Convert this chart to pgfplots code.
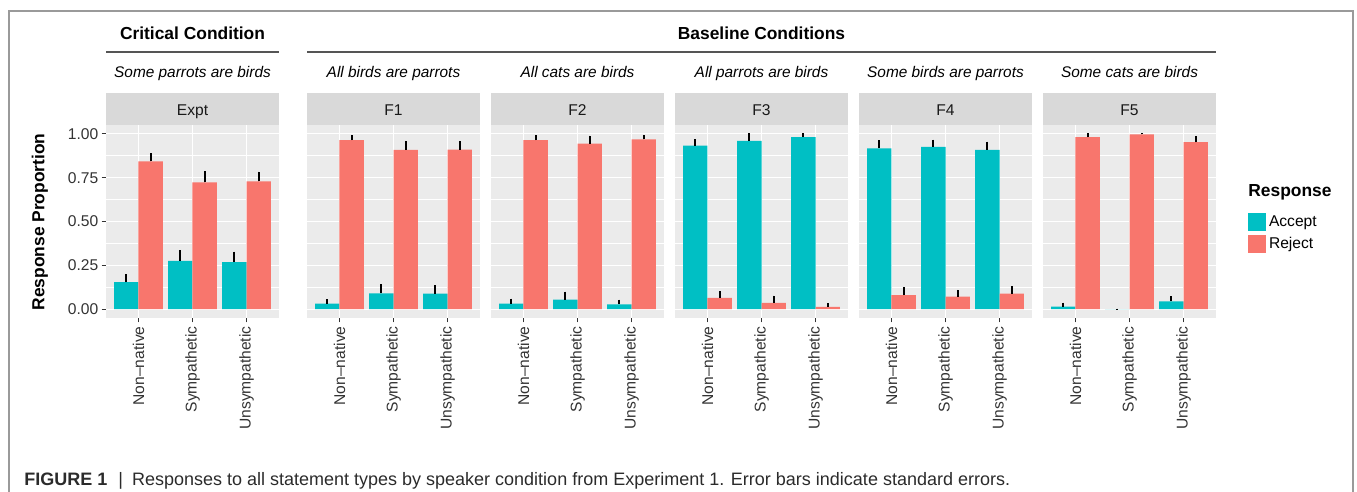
\documentclass[border=0pt]{standalone}
\usepackage{pgfplots}
\usepackage{pgfplotstable}
\pgfplotsset{compat=1.18}
\usepackage{fontspec}
\setmainfont{Liberation Sans}
\definecolor{panelbg}{HTML}{EBEBEB}
\definecolor{stripbg}{HTML}{D9D9D9}
\definecolor{accept}{HTML}{00BFC4}
\definecolor{reject}{HTML}{F8766D}
\definecolor{tickgray}{HTML}{333333}
\definecolor{framegray}{HTML}{9A9A9A}
\definecolor{linegray}{HTML}{555555}
\definecolor{captgray}{HTML}{2B2B2B}

\pgfplotstableread{
x acc accse rej rejse
1 0.154 0.046 0.843 0.046
2 0.275 0.062 0.723 0.064
3 0.269 0.059 0.729 0.055
}\Expt
\pgfplotstableread{
x acc accse rej rejse
1 0.032 0.024 0.964 0.030
2 0.090 0.051 0.908 0.052
3 0.089 0.048 0.910 0.050
}\Fone
\pgfplotstableread{
x acc accse rej rejse
1 0.032 0.028 0.964 0.030
2 0.055 0.045 0.944 0.045
3 0.028 0.027 0.968 0.026
}\Ftwo
\pgfplotstableread{
x acc accse rej rejse
1 0.932 0.038 0.064 0.038
2 0.960 0.042 0.036 0.041
3 0.981 0.021 0.013 0.021
}\Fthree
\pgfplotstableread{
x acc accse rej rejse
1 0.917 0.047 0.081 0.047
2 0.925 0.041 0.072 0.039
3 0.908 0.047 0.089 0.043
}\Ffour
\pgfplotstableread{
x acc accse rej rejse
1 0.015 0.023 0.981 0.023
2 0.000 0.003 0.997 0.007
3 0.045 0.030 0.953 0.032
}\Ffive

\pgfplotsset{
  panel/.style={
    scale only axis, width=86.5pt, height=96.5pt,
    anchor=south west,
    xmin=0.4, xmax=3.6, ymin=-0.05, ymax=1.05,
    xtick={1,2,3}, xticklabels={Non--native,Sympathetic,Unsympathetic},
    ytick={0,0.25,0.5,0.75,1},
    yticklabels={0.00,0.25,0.50,0.75,1.00},
    minor ytick={0.125,0.375,0.625,0.875},
    grid=both,
    major grid style={white, line width=0.7pt},
    minor grid style={white, line width=0.35pt},
    axis line style={draw=none},
    axis background/.style={fill=panelbg},
    tick pos=left,
    tick align=outside, major tick length=2.2pt, minor tick length=0pt,
    tick style={color=tickgray, line width=0.5pt},
    ticklabel style={font=\fontsize{7.8}{9}\selectfont, text=tickgray},
    xticklabel style={rotate=90, anchor=east, inner sep=1.8pt},
    yticklabel style={inner sep=1.5pt},
    ybar, bar width=0.45,
  },
  fpanel/.style={panel, yticklabels={}, ytick style={draw=none}},
  eb/.style={error bars/y dir=plus, error bars/y explicit,
    error bars/error bar style={black, line width=0.95pt},
    error bars/error mark=none},
  accbar/.style={fill=accept, draw=none, bar shift=-0.225, eb,
    legend image code/.code={\fill[accept] (0pt,-4.6pt) rectangle (9pt,4.6pt);}},
  rejbar/.style={fill=reject, draw=none, bar shift=0.225, eb,
    legend image code/.code={\fill[reject] (0pt,-4.6pt) rectangle (9pt,4.6pt);}},
}

\begin{document}
\begin{tikzpicture}
\useasboundingbox (0pt,0pt) rectangle (678.5pt,-246pt);
% frame
\draw[framegray, line width=0.8pt] (4.5pt,-246pt) -- (4.5pt,-5.5pt) -- (676.5pt,-5.5pt) -- (676.5pt,-246pt);

\begin{axis}[panel, at={(53pt,-159pt)}]
\addplot[accbar] table[x=x, y=acc, y error=accse] {\Expt};
\addplot[rejbar] table[x=x, y=rej, y error=rejse] {\Expt};
\end{axis}
\begin{axis}[fpanel, at={(153.5pt,-159pt)}]
\addplot[accbar] table[x=x, y=acc, y error=accse] {\Fone};
\addplot[rejbar] table[x=x, y=rej, y error=rejse] {\Fone};
\end{axis}
\begin{axis}[fpanel, at={(245.5pt,-159pt)}]
\addplot[accbar] table[x=x, y=acc, y error=accse] {\Ftwo};
\addplot[rejbar] table[x=x, y=rej, y error=rejse] {\Ftwo};
\end{axis}
\begin{axis}[fpanel, at={(337.5pt,-159pt)}]
\addplot[accbar] table[x=x, y=acc, y error=accse] {\Fthree};
\addplot[rejbar] table[x=x, y=rej, y error=rejse] {\Fthree};
\end{axis}
\begin{axis}[fpanel, at={(429.5pt,-159pt)}]
\addplot[accbar] table[x=x, y=acc, y error=accse] {\Ffour};
\addplot[rejbar] table[x=x, y=rej, y error=rejse] {\Ffour};
\end{axis}
\begin{axis}[fpanel, at={(521.5pt,-159pt)},
  legend style={at={(1.185,0.547)}, anchor=north west, draw=none, fill=none,
    inner sep=0pt, font=\fontsize{7.8}{9}\selectfont, row sep=1.2pt,
    nodes={inner sep=1.3pt, text=black}},
  legend cell align=left]
\addplot[accbar] table[x=x, y=acc, y error=accse] {\Ffive};
\addlegendentry{Accept}
\addplot[rejbar] table[x=x, y=rej, y error=rejse] {\Ffive};
\addlegendentry{Reject}
\end{axis}

% strips
\foreach \xl/\lab in {53/Expt, 153.5/F1, 245.5/F2, 337.5/F3, 429.5/F4, 521.5/F5} {
  \fill[stripbg] ({\xl*1pt},-46.5pt) rectangle ({\xl*1pt+86.5pt},-62.5pt);
  \node[font=\fontsize{7.8}{9}\selectfont, text=black!90, anchor=base, inner sep=0pt] at ({\xl*1pt+43.25pt},-57.6pt) {\lab};
}
% subtitles
\foreach \xl/\lab in {53/Some parrots are birds, 153.5/All birds are parrots, 245.5/All cats are birds, 337.5/All parrots are birds, 429.5/Some birds are parrots, 521.5/Some cats are birds} {
  \node[font=\fontsize{7.7}{9}\selectfont\itshape, anchor=base, inner sep=0pt] at ({\xl*1pt+43.25pt},-38.6pt) {\lab};
}
% headings
\node[font=\fontsize{8.7}{10}\selectfont\bfseries, anchor=base, inner sep=0pt] at (96.25pt,-19.6pt) {Critical Condition};
\node[font=\fontsize{8.7}{10}\selectfont\bfseries, anchor=base, inner sep=0pt] at (380.75pt,-19.6pt) {Baseline Conditions};
\draw[linegray, line width=0.7pt] (53pt,-26pt) -- (139.5pt,-26pt);
\draw[linegray, line width=0.7pt] (153.5pt,-26pt) -- (608pt,-26pt);
% y label
\node[font=\fontsize{8.7}{10}\selectfont\bfseries, rotate=90] at (20pt,-111pt) {Response Proportion};
% legend title
\node[font=\fontsize{8.7}{10}\selectfont\bfseries, anchor=west, inner sep=0pt] at (624pt,-96pt) {Response};
% caption
\node[anchor=base west, inner sep=0pt, font=\fontsize{9}{10}\selectfont, text=captgray] at (12pt,-242.5pt)
  {\textbf{FIGURE 1}\hspace{5.5pt}|\hspace{4.5pt}Responses to all statement types by speaker condition from Experiment 1. Error bars indicate standard errors.};
\end{tikzpicture}
\end{document}
